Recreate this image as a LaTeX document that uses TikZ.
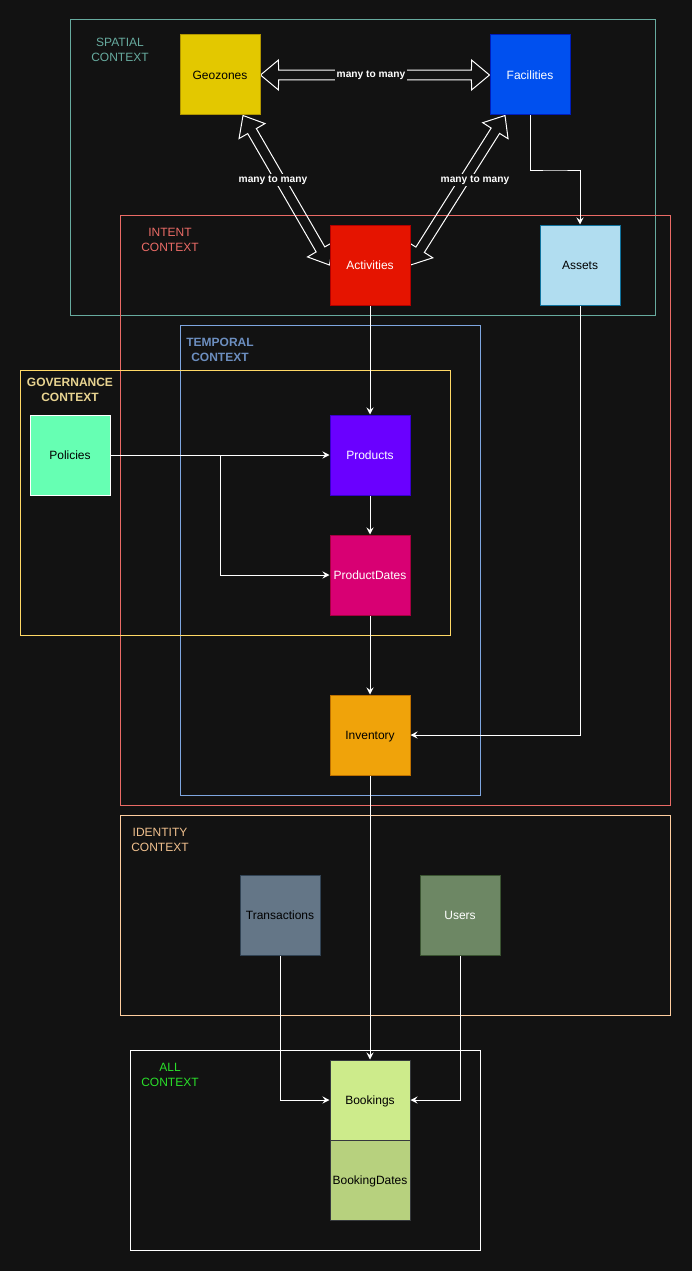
\documentclass[tikz,border=0pt]{standalone}
\usepackage{fontspec}
\setmainfont{Liberation Sans}
\usetikzlibrary{arrows.meta,calc}

\definecolor{bg}{HTML}{121212}
\definecolor{geofill}{HTML}{E3C800}\definecolor{geoline}{HTML}{B09500}
\definecolor{facfill}{HTML}{0050EF}\definecolor{facline}{HTML}{001DBC}
\definecolor{actfill}{HTML}{E51400}\definecolor{actline}{HTML}{B20000}
\definecolor{astfill}{HTML}{B1DDF0}\definecolor{astline}{HTML}{10739E}
\definecolor{prodfill}{HTML}{6A00FF}\definecolor{prodline}{HTML}{3700CC}
\definecolor{pdfill}{HTML}{D80073}\definecolor{pdline}{HTML}{A50040}
\definecolor{polfill}{HTML}{66FFB3}
\definecolor{invfill}{HTML}{F0A30A}\definecolor{invline}{HTML}{BD7000}
\definecolor{trfill}{HTML}{647687}\definecolor{trline}{HTML}{314354}
\definecolor{usfill}{HTML}{6D8764}\definecolor{usline}{HTML}{3A5431}
\definecolor{bkfill}{HTML}{CDEB8B}\definecolor{bdfill}{HTML}{B7D17E}
\definecolor{bkline}{HTML}{36393D}
\definecolor{spatial}{HTML}{67AB9F}
\definecolor{intent}{HTML}{EA6B66}
\definecolor{temporal}{HTML}{7EA6E0}\definecolor{temporaltxt}{HTML}{6C8EBF}
\definecolor{governance}{HTML}{FFD966}\definecolor{governancetxt}{HTML}{E8D491}
\definecolor{identity}{HTML}{FFCE9F}\definecolor{identitytxt}{HTML}{F0C08E}
\definecolor{alltxt}{HTML}{2AE02A}

\pgfdeclarelayer{back}
\pgfsetlayers{back,main}

% hollow double headed arrow
\newcommand\manymany[2]{%
  \draw[flex] (#1) -- ($(#1)!23.4pt!39.8:(#2)$) -- ($(#1)!18.7pt!15.5:(#2)$)
    -- ($(#2)!18.7pt!-15.5:(#1)$) -- ($(#2)!23.4pt!-39.8:(#1)$) -- (#2)
    -- ($(#2)!23.4pt!39.8:(#1)$) -- ($(#2)!18.7pt!15.5:(#1)$)
    -- ($(#1)!18.7pt!-15.5:(#2)$) -- ($(#1)!23.4pt!-39.8:(#2)$) -- cycle;}

\begin{document}
\begin{tikzpicture}[x=1pt,y=-1pt,
    box/.style={draw,line width=1pt,minimum size=80pt,inner sep=0pt,
      text height=10.9pt,text depth=2.5pt,font=\fontsize{12}{14}\selectfont},
    ctx/.style={line width=1pt},
    ctxlabel/.style={align=center,inner sep=0pt,font=\fontsize{12}{15}\selectfont},
    link/.style={draw=white,line width=1pt,-{Stealth[length=7pt,width=7pt,inset=2.5pt]}},
    flex/.style={draw=white,line width=1pt,line join=miter},
    mmlabel/.style={fill=bg,text=white,inner sep=1.5pt,
      font=\bfseries\fontsize{10.2}{12}\selectfont}]

  % entities
  \node[box,fill=geofill,draw=geoline] (geo) at (220,75) {Geozones};
  \node[box,fill=facfill,draw=facline,text=white] (fac) at (530,75) {Facilities};
  \node[box,fill=actfill,draw=actline,text=white] (act) at (370,265) {Activities};
  \node[box,fill=astfill,draw=astline] (ast) at (580,265) {Assets};
  \node[box,fill=prodfill,draw=prodline,text=white] (prod) at (370,455) {Products};
  \node[box,fill=pdfill,draw=pdline,text=white] (pd) at (370,575) {ProductDates};
  \node[box,fill=polfill,draw=white] (pol) at (70,455) {Policies};
  \node[box,fill=invfill,draw=invline] (inv) at (370,735) {Inventory};
  \node[box,fill=trfill,draw=trline] (tr) at (280,915) {Transactions};
  \node[box,fill=usfill,draw=usline,text=white] (us) at (460,915) {Users};
  \node[box,fill=bkfill,draw=bkline] (bk) at (370,1100) {Bookings};
  \node[box,fill=bdfill,draw=bkline] (bd) at (370,1180) {BookingDates};

  % context labels
  \node[ctxlabel,text=spatial] (spatiallbl) at (120,50) {SPATIAL\\CONTEXT};
  \node[ctxlabel,text=intent] (intentlbl) at (170,240) {INTENT\\CONTEXT};
  \node[ctxlabel,text=temporaltxt,font=\bfseries\fontsize{12}{15}\selectfont] (temporallbl) at (220,350) {TEMPORAL\\CONTEXT};
  \node[ctxlabel,text=governancetxt,font=\bfseries\fontsize{12}{15}\selectfont] (governancelbl) at (70,390) {GOVERNANCE\\CONTEXT};
  \node[ctxlabel,text=identitytxt] (identitylbl) at (160,840) {IDENTITY\\CONTEXT};
  \node[ctxlabel,text=alltxt] (alllbl) at (170,1075) {ALL\\CONTEXT};

  \coordinate (geotip) at ([xshift=23pt]geo.south);
  \coordinate (factip) at ([xshift=-25pt]fac.south);

  \begin{pgfonlayer}{back}
    \fill[bg] (0,0) rectangle (692,1271);
    % contexts
    \draw[ctx,spatial] (70,20) rectangle (655,315);
    \draw[ctx,intent] (120,215) rectangle (670,805);
    \draw[ctx,temporal] (180,325) rectangle (480,795);
    \draw[ctx,governance] (20,370) rectangle (450,635);
    \draw[ctx,identity] (120,815) rectangle (670,1015);
    \draw[ctx,white] (130,1050) rectangle (480,1250);
    % many to many
    \manymany{geo.east}{fac.west}
    \manymany{geotip}{act.west}
    \manymany{factip}{act.east}
  \end{pgfonlayer}

  \node[mmlabel] (mmtop) at (371,75) {many to many};
  \node[mmlabel] (mmleft) at (273,180) {many to many};
  \node[mmlabel] (mmright) at (475,180) {many to many};

  % links
  \draw[link] (fac.south) |- ($(fac.south)!.5!(ast.north)$) -| (ast.north);
  \draw[link] (act.south) -- (prod.north);
  \draw[link] (prod.south) -- (pd.north);
  \draw[link] (pd.south) -- (inv.north);
  \draw[link] (ast.south) |- (inv.east);
  \draw[link] (pol.east) -- (prod.west);
  \draw[link] ($(pol.east)!.5!(prod.west)$) |- (pd.west);
  \draw[link] (inv.south) -- (bk.north);
  \draw[link] (tr.south) |- (bk.west);
  \draw[link] (us.south) |- (bk.east);
\end{tikzpicture}
\end{document}
